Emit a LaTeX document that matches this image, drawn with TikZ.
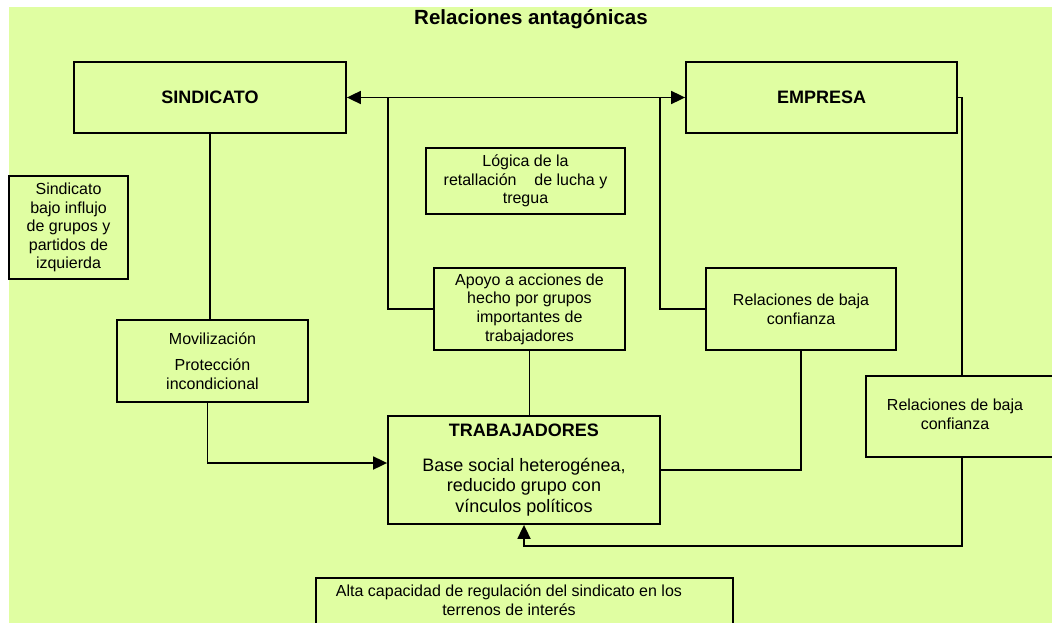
\documentclass[tikz,border=0pt]{standalone}
\usepackage{fontspec}
\setmainfont{Liberation Sans}
\usetikzlibrary{arrows.meta}
\definecolor{bg}{RGB}{224,254,162}
\begin{document}
\begin{tikzpicture}[x=1pt,y=-1pt,
  box/.style={draw,line width=1.8pt,inner sep=0pt,align=center},
  big/.style={font=\fontsize{18}{20}\selectfont\bfseries},
  small/.style={font=\fontsize{16}{18.6}\selectfont},
  conn/.style={line width=1.8pt},
  arr/.style={conn,-{Triangle[length=14pt,width=13pt]}},
  darr/.style={conn,{Triangle[length=14pt,width=13pt]}-{Triangle[length=14pt,width=13pt]}},
]
\useasboundingbox (0,0) rectangle (1052,623);
\clip (0,0) rectangle (1052,623);
\fill[white] (0,0) rectangle (1052,623);
\fill[bg] (9,7) rectangle (1070,640);

\node (title) [anchor=base,font=\fontsize{20.5}{24}\selectfont\bfseries] at (531,25) {Relaciones antagónicas};

\node (sind) [box,big,minimum width=272,minimum height=71] at (210,97.5) {SINDICATO};
\node (emp) [box,big,minimum width=271,minimum height=71] at (821.5,97.5) {EMPRESA};
\node (logica) [box,small,minimum width=199,minimum height=66] at (525.5,181) {Lógica de la\\retallación\ \ \ \ de lucha y\\tregua};
\node (influjo) [box,small,minimum width=119,minimum height=103] at (68.5,227.5) {Sindicato\\bajo influjo\\de grupos y\\partidos de\\izquierda};
\node (movil) [box,small,minimum width=191,minimum height=82] at (212.5,361) {Movilización\\[8pt]Protección\\incondicional};
\node (apoyo) [box,small,minimum width=191,minimum height=82] at (529.5,309) {Apoyo a acciones de\\hecho por grupos\\importantes de\\trabajadores};
\node (rel1) [box,small,minimum width=190,minimum height=82] at (801,309) {Relaciones de baja\\confianza};
\node (trab) [box,font=\fontsize{18}{20.5}\selectfont,minimum width=272,minimum height=108] at (524,470) {\textbf{TRABAJADORES}\\[14pt]Base social heterogénea,\\reducido grupo con\\vínculos políticos};
\node (rel2) [box,small,minimum width=200,minimum height=81] at (966,416.5) {\makebox[178pt]{\raisebox{-3pt}{\begin{tabular}{@{}c@{}}Relaciones de baja\\confianza\end{tabular}}}\hspace*{22pt}};
\node (alta) [box,small,minimum width=417,minimum height=48] at (524.5,602) {\makebox[386pt]{\begin{tabular}{@{}c@{}}Alta capacidad de regulación del sindicato en los\\terrenos de interés\end{tabular}}\hspace*{31pt}};

\coordinate (cL) at (388,97.5);
\coordinate (cM) at (660,97.5);
\coordinate (cR) at (962,97.5);
\coordinate (cB) at (0,546);

\draw[darr] (sind.east) -- (emp.west);
\draw[conn] (cL) |- (apoyo.west);
\draw[conn] (cM) |- (rel1.west);
\draw[conn] (emp.east) -- (cR) -- (cR |- rel2.north);
\draw[conn] (sind.south) -- (sind.south |- movil.north);
\draw[arr] ([xshift=-5pt]movil.south) |- ([yshift=7pt]trab.west);
\draw[conn] (apoyo.south) -- (apoyo.south |- trab.north);
\draw[conn] (rel1.south) |- (trab.east);
\draw[arr] (cR |- rel2.south) -- (cR |- cB) -| (trab.south);
\end{tikzpicture}
\end{document}
